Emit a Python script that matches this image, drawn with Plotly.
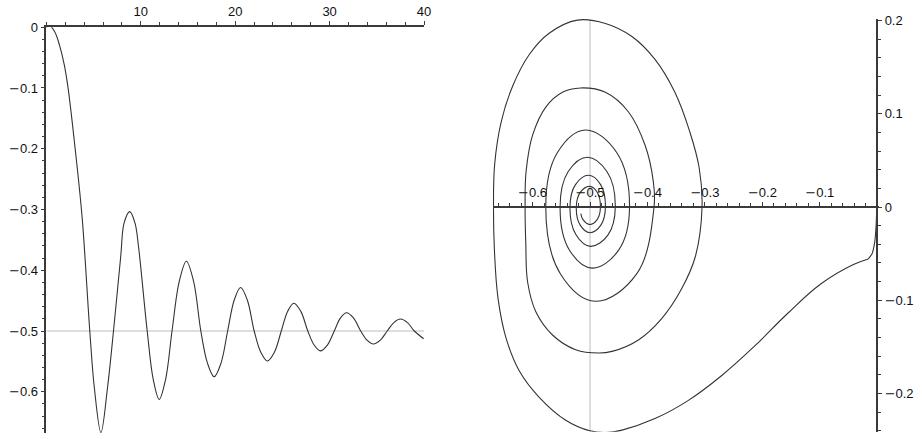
import plotly.graph_objects as go

# ---------------- data ----------------
# Left panel: x(t)
t_vals = [0, 0.4, 0.9, 1.4, 1.9, 2.3, 3.05, 3.8, 4.6, 5.08, 5.78, 6.48, 7.11,
          7.88, 8.23, 8.83, 9.39, 9.76, 10.68, 11.32, 11.95, 12.63, 13.31, 14.07,
          14.83, 15.6, 16.36, 17.07, 17.77, 18.49, 19.2, 19.89, 20.57, 21.29,
          22.01, 22.71, 23.41, 24.15, 24.88, 25.55, 26.21, 26.95, 27.69, 28.36,
          29.02, 29.76, 30.49, 31.14, 31.79, 32.54, 33.29, 33.96, 34.63, 35.37,
          36.1, 36.8, 37.5, 38.24, 38.97, 39.96]
x_vals = [0, 0.002, -0.008, -0.030, -0.062, -0.100, -0.200, -0.315, -0.500,
          -0.593, -0.667, -0.593, -0.500, -0.3765, -0.3225, -0.3036, -0.3225,
          -0.361, -0.500, -0.5796, -0.6126, -0.5796, -0.500, -0.4188, -0.3852,
          -0.4188, -0.500, -0.5533, -0.5754, -0.5533, -0.500, -0.4494, -0.4284,
          -0.4494, -0.500, -0.5349, -0.5494, -0.5349, -0.500, -0.4677, -0.4543,
          -0.4677, -0.500, -0.5231, -0.5327, -0.5231, -0.500, -0.4788, -0.470,
          -0.4788, -0.500, -0.5151, -0.5213, -0.5151, -0.500, -0.4861, -0.4803,
          -0.4861, -0.500, -0.5127]

# Equilibrium level (grey guide lines)
equilibrium = -0.5
t_span = [0, 40]
v_span = [-0.2415, 0.2006]

# Right panel: phase portrait (x, x')
start_x = [0.0, -0.0008, -0.002, -0.0045, -0.009, -0.0155]
start_v = [0.009, 0.0, -0.020, -0.038, -0.050, -0.0557]

phase_x = [-0.0155, -0.0415, -0.099, -0.1566, -0.2142, -0.2717, -0.3294, -0.3869,
           -0.4444, -0.4675, -0.5003, -0.5423, -0.5884, -0.623, -0.646, -0.660,
           -0.6665, -0.668, -0.666, -0.6546, -0.6344, -0.6057, -0.5712, -0.522,
           -0.4732, -0.4271, -0.3869, -0.3523, -0.3264, -0.3100, -0.305,
           -0.3165, -0.3408, -0.3753, -0.4157, -0.4617, -0.4848, -0.525, -0.5653,
           -0.5941, -0.6085, -0.6118, -0.613,
           -0.6112, -0.5998, -0.5769, -0.548, -0.5164, -0.4732, -0.433, -0.404,
           -0.390, -0.3886,
           -0.4185, -0.4905, -0.5517, -0.577,
           -0.5567, -0.5078, -0.4536, -0.4312,
           -0.4502, -0.4962, -0.5357, -0.5521,
           -0.5382, -0.5048, -0.4703, -0.456,
           -0.4686, -0.4991, -0.5244, -0.5349,
           -0.5253, -0.502, -0.4816, -0.4732,
           -0.4811, -0.5003, -0.517, -0.5239,
           -0.517, -0.5003, -0.4873, -0.4819,
           -0.4873, -0.5003, -0.5125, -0.516]
phase_v = [-0.0557, -0.0617, -0.0828, -0.1145, -0.1496, -0.1813, -0.2077, -0.2270,
           -0.2394, -0.2418, -0.2401, -0.2288, -0.2042, -0.176, -0.1409, -0.0986,
           -0.045, 0.0, 0.0457, 0.0915, 0.1302, 0.1637, 0.1865, 0.2006,
           0.197, 0.183, 0.1584, 0.1231, 0.0809, 0.0422, 0.0,
           -0.0528, -0.088, -0.1197, -0.1426, -0.1549, -0.1567, -0.1531, -0.1373,
           -0.1127, -0.081, -0.0388, 0.0,
           0.0387, 0.0774, 0.1073, 0.1231, 0.1278, 0.1231, 0.102, 0.066,
           0.0281, 0.0,
           -0.0715, -0.1011, -0.0715, 0.0,
           0.0585, 0.0827, 0.0585, 0.0,
           -0.0463, -0.0655, -0.0463, 0.0,
           0.0378, 0.0535, 0.0378, 0.0,
           -0.0298, -0.0422, -0.0298, 0.0,
           0.0241, 0.0341, 0.0241, 0.0,
           -0.0194, -0.0275, -0.0194, 0.0,
           0.0157, 0.0222, 0.0157, 0.0,
           -0.0132, -0.0187, -0.0132, -0.007]

left_xticks = [10, 20, 30, 40]
left_yticks = [0, -0.1, -0.2, -0.3, -0.4, -0.5, -0.6]
right_xticks = [-0.6, -0.5, -0.4, -0.3, -0.2, -0.1]
right_yticks = [-0.2, -0.1, 0, 0.1, 0.2]

# ---------------- figure ----------------
W, H = 922, 439
CURVE = "#333333"
GUIDE = "#bdbdbd"
AXIS = "#3a3a3a"
FONT = dict(family="Liberation Sans, Arial, sans-serif", size=13, color="#111111")


def label(v):
    s = ("%g" % abs(v))
    if v < 0:
        return '<span style="font-family:DejaVu Sans">\u2212</span>' + s
    return s


fig = go.Figure()

# grey guide lines
fig.add_trace(go.Scatter(x=t_span, y=[equilibrium, equilibrium], mode="lines",
                         line=dict(color=GUIDE, width=1), xaxis="x", yaxis="y",
                         hoverinfo="skip"))
fig.add_trace(go.Scatter(x=[equilibrium, equilibrium], y=v_span, mode="lines",
                         line=dict(color=GUIDE, width=1), xaxis="x2", yaxis="y2",
                         hoverinfo="skip"))

# left: time series
fig.add_trace(go.Scatter(x=t_vals, y=x_vals, mode="lines",
                         line=dict(color=CURVE, width=1.1, shape="spline", smoothing=1.0),
                         xaxis="x", yaxis="y"))

# right: phase portrait
fig.add_trace(go.Scatter(x=start_x, y=start_v, mode="lines",
                         line=dict(color=CURVE, width=1.1, shape="spline", smoothing=0.6),
                         xaxis="x2", yaxis="y2"))
fig.add_trace(go.Scatter(x=phase_x, y=phase_v, mode="lines",
                         line=dict(color=CURVE, width=1.1, shape="spline", smoothing=1.1),
                         xaxis="x2", yaxis="y2"))


def px_x(p):
    return p / W


def px_y(p):
    return 1 - p / H


common = dict(showgrid=False, zeroline=False, showline=True, linecolor=AXIS,
              linewidth=1.5, ticks="outside", ticklen=4, tickwidth=1,
              tickcolor=AXIS, tickfont=FONT, tickmode="array")

minor_common = dict(tickmode="linear", tick0=0, ticklen=3, ticks="outside",
                    tickcolor=AXIS, showgrid=False)

fig.update_layout(
    width=W, height=H, margin=dict(l=0, r=0, t=0, b=0),
    paper_bgcolor="white", plot_bgcolor="white", showlegend=False,
    xaxis=dict(domain=[px_x(46.7), px_x(427.3)], range=[0, 40], anchor="y",
               side="top", tickvals=left_xticks,
               ticktext=[label(v) for v in left_xticks],
               minor=dict(dtick=2, **minor_common), **common),
    yaxis=dict(domain=[px_y(433.0), px_y(20.5)], range=[-0.668, 0.0], anchor="x",
               side="left", tickvals=left_yticks,
               ticktext=[label(v) for v in left_yticks],
               minor=dict(dtick=0.02, **minor_common), **common),
    xaxis2=dict(domain=[px_x(496.7), px_x(886.0)], range=[-0.669, 0.0035],
                anchor="free", position=px_y(203.3), side="top",
                tickvals=right_xticks,
                ticktext=[label(v) for v in right_xticks],
                minor=dict(dtick=0.02, **minor_common), **common),
    yaxis2=dict(domain=[px_y(431.7), px_y(12.0)], range=[-0.2412, 0.202],
                anchor="free", position=px_x(884.0), side="right",
                tickvals=right_yticks,
                ticktext=[label(v) for v in right_yticks],
                minor=dict(dtick=0.02, **minor_common), **common),
)

fig.write_html("out.html")
